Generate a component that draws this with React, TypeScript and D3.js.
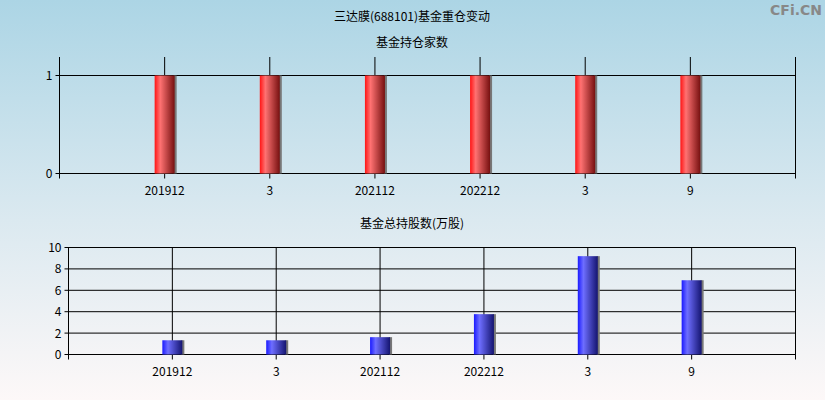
import { useEffect, useRef } from 'react';
import * as d3 from 'd3';

const categories = ['201912', '3', '202112', '202212', '3', '9'];
const fundCounts = [1, 1, 1, 1, 1, 1];
const fundShares = [1.33, 1.33, 1.62, 3.77, 9.19, 6.94];
const countTicks = [0, 1];
const shareTicks = [0, 2, 4, 6, 8, 10];

const FONT = '"Noto Sans CJK SC", "DejaVu Sans", sans-serif';

export default function App() {
  const svgRef = useRef<SVGSVGElement>(null);

  useEffect(() => {
    if (!svgRef.current) return;
    const svg = d3.select(svgRef.current);
    svg.selectAll('*').remove();

    const defs = svg.append('defs');

    // background gradient
    const bg = defs.append('linearGradient')
      .attr('id', 'bg').attr('x1', 0).attr('y1', 0).attr('x2', 0).attr('y2', 1);
    bg.append('stop').attr('offset', '0%').attr('stop-color', '#acd5e5');
    bg.append('stop').attr('offset', '55%').attr('stop-color', '#dbe9f0');
    bg.append('stop').attr('offset', '100%').attr('stop-color', '#fdf8f8');

    const barGrad = (id: string, bright: string, light: string, dark: string) => {
      const lg = defs.append('linearGradient')
        .attr('id', id).attr('x1', 0).attr('y1', 0).attr('x2', 1).attr('y2', 0);
      lg.append('stop').attr('offset', '0%').attr('stop-color', bright);
      lg.append('stop').attr('offset', '28%').attr('stop-color', light);
      lg.append('stop').attr('offset', '100%').attr('stop-color', dark);
    };
    barGrad('redBar', '#ff1414', '#ff7272', '#761010');
    barGrad('blueBar', '#1a1aff', '#6e6eff', '#141470');

    svg.append('rect').attr('width', 825).attr('height', 400).attr('fill', 'url(#bg)');

    // titles
    const title = (x: number, y: number, t: string) =>
      svg.append('text')
        .attr('x', x).attr('y', y)
        .attr('text-anchor', 'middle')
        .style('font-family', FONT)
        .style('font-size', '12px')
        .attr('fill', '#000')
        .text(t);
    title(412, 21, '三达膜(688101)基金重仓变动');
    title(412, 47, '基金持仓家数');
    title(412, 228, '基金总持股数(万股)');

    svg.append('text')
      .attr('x', 822).attr('y', 15)
      .attr('text-anchor', 'end')
      .style('font-family', '"DejaVu Sans", sans-serif')
      .style('font-size', '14px')
      .style('font-weight', 'bold')
      .attr('fill', '#888')
      .text('CFi.CN');

    const panel = (opts: {
      left: number; right: number; top: number; yTop: number; yBottom: number;
      values: number[]; ticks: number[]; max: number; grad: string; fullVLines: boolean;
      topBorder: boolean;
    }) => {
      const { left, right, top, yTop, yBottom, values, ticks, max, grad } = opts;
      const x = d3.scaleLinear().domain([0, categories.length + 1]).range([left, right]);
      const y = d3.scaleLinear().domain([0, max]).range([yBottom, yTop]);
      const g = svg.append('g');

      // horizontal grid
      g.selectAll('.hgrid').data(ticks).enter().append('line')
        .attr('x1', left - 4).attr('x2', right)
        .attr('y1', d => y(d)).attr('y2', d => y(d))
        .attr('stroke', '#000').attr('stroke-width', 1);

      // vertical category lines
      g.selectAll('.vgrid').data(categories).enter().append('line')
        .attr('x1', (_, i) => x(i + 1)).attr('x2', (_, i) => x(i + 1))
        .attr('y1', top).attr('y2', yBottom + 5)
        .attr('stroke', '#000').attr('stroke-width', 1);

      // left / right axis lines
      [left, right].forEach(px => {
        g.append('line')
          .attr('x1', px).attr('x2', px)
          .attr('y1', top).attr('y2', yBottom + 5)
          .attr('stroke', '#000').attr('stroke-width', 1);
      });

      // bars with shadow
      const bw = 20;
      g.selectAll('.shadow').data(values).enter().append('rect')
        .attr('x', (_, i) => x(i + 1) + bw / 2 - 1)
        .attr('y', d => y(d))
        .attr('width', 3)
        .attr('height', d => yBottom - y(d))
        .attr('fill', '#777');
      g.selectAll('.bar').data(values).enter().append('rect')
        .attr('x', (_, i) => x(i + 1) - bw / 2)
        .attr('y', d => y(d))
        .attr('width', bw)
        .attr('height', d => yBottom - y(d))
        .attr('fill', `url(#${grad})`);

      // y tick labels
      g.selectAll('.ylab').data(ticks).enter().append('text')
        .attr('x', left - 7).attr('y', d => y(d) + 4.5)
        .attr('text-anchor', 'end')
        .style('font-family', FONT)
        .style('font-size', '12px')
        .attr('fill', '#000')
        .text(d => String(d));

      // x tick labels
      g.selectAll('.xlab').data(categories).enter().append('text')
        .attr('x', (_, i) => x(i + 1)).attr('y', yBottom + 21)
        .attr('text-anchor', 'middle')
        .style('font-family', FONT)
        .style('font-size', '12px')
        .attr('fill', '#000')
        .text(d => d);
    };

    panel({
      left: 59.5, right: 795.5, top: 57, yTop: 75.5, yBottom: 173.5,
      values: fundCounts, ticks: countTicks, max: 1, grad: 'redBar', fullVLines: false, topBorder: false,
    });
    panel({
      left: 68.5, right: 795.5, top: 247.5, yTop: 247.5, yBottom: 354.5,
      values: fundShares, ticks: shareTicks, max: 10, grad: 'blueBar', fullVLines: true, topBorder: true,
    });
  }, []);

  return (
    <svg
      ref={svgRef}
      width={825}
      height={400}
      style={{ position: 'absolute', left: 0, top: 0, display: 'block' }}
    />
  );
}
